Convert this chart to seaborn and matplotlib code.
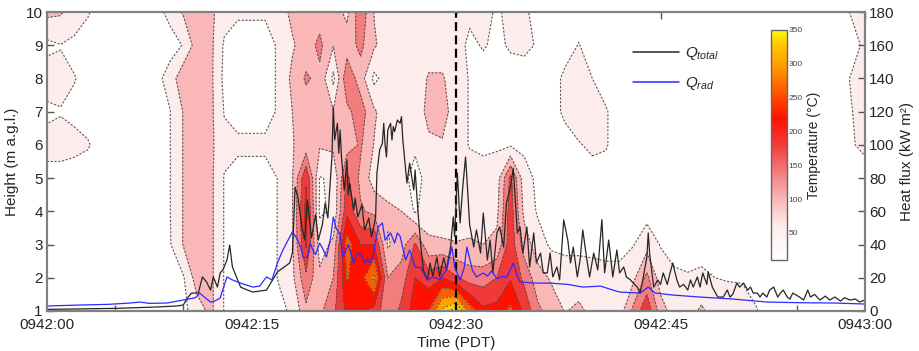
import numpy as np
import pandas as pd
import matplotlib
matplotlib.use("Agg")
import matplotlib.pyplot as plt
import seaborn as sns
from matplotlib.colors import LinearSegmentedColormap, Normalize
from matplotlib.cm import ScalarMappable
from matplotlib.lines import Line2D
from matplotlib.ticker import FixedLocator, MultipleLocator

sns.set_style("white")
plt.rcParams["font.family"] = ["Liberation Sans", "DejaVu Sans"]
plt.rcParams["mathtext.fontset"] = "custom"
plt.rcParams["mathtext.it"] = "Liberation Sans:italic"
plt.rcParams["mathtext.rm"] = "Liberation Sans"

# ---- thermocouple tower temperatures (deg C), 1 s steps after 09:42:00 PDT ----
seconds = np.arange(0, 61)
heights = np.arange(1, 11)

temp_h01 = [25, 25, 25, 25, 25, 25, 25, 25, 28, 30,
            30, 60, 90, 38, 25, 25, 25, 32, 45, 110,
            110, 150, 210, 205, 185, 130, 170, 220, 240, 330,
            370, 260, 210, 215, 250, 190, 130, 100, 78, 88,
            70, 65, 60, 130, 190, 100, 60, 60, 88, 60,
            55, 50, 42, 30, 30, 30, 30, 30, 28, 28,
            28]
temp_h02 = [25, 25, 25, 25, 25, 25, 25, 25, 28, 32,
            36, 100, 90, 38, 25, 25, 25, 42, 70, 150,
            90, 120, 243, 220, 290, 120, 140, 200, 180, 200,
            165, 140, 140, 160, 195, 150, 95, 75, 60, 60,
            55, 50, 50, 70, 130, 60, 45, 42, 45, 40,
            38, 38, 30, 25, 25, 25, 25, 25, 28, 28,
            28]
temp_h03 = [25, 25, 25, 25, 25, 25, 25, 25, 28, 36,
            82, 110, 90, 38, 25, 25, 25, 42, 75, 205,
            60, 90, 260, 200, 200, 75, 100, 165, 88, 85,
            82, 85, 80, 90, 185, 100, 60, 32, 30, 30,
            30, 30, 30, 38, 65, 38, 30, 30, 30, 30,
            28, 28, 25, 25, 25, 25, 25, 25, 28, 28,
            28]
temp_h04 = [25, 25, 25, 25, 25, 25, 25, 25, 28, 38,
            82, 110, 90, 38, 25, 25, 25, 42, 78, 215,
            35, 45, 190, 125, 110, 88, 80, 35, 60, 60,
            60, 60, 60, 70, 180, 70, 35, 30, 30, 30,
            30, 30, 28, 25, 25, 25, 25, 25, 25, 25,
            25, 25, 25, 25, 25, 25, 25, 25, 28, 28,
            28]
temp_h05 = [24, 34, 30, 28, 25, 25, 25, 25, 28, 38,
            82, 110, 90, 38, 25, 25, 25, 42, 78, 195,
            38, 45, 170, 110, 60, 60, 50, 30, 50, 55,
            55, 55, 50, 60, 170, 55, 32, 30, 30, 30,
            30, 30, 25, 25, 25, 25, 25, 25, 25, 25,
            25, 25, 25, 25, 25, 25, 25, 25, 28, 28,
            30]
temp_h06 = [56, 46, 46, 42, 30, 25, 25, 25, 28, 38,
            82, 110, 90, 50, 48, 48, 48, 60, 78, 95,
            85, 90, 100, 125, 78, 60, 55, 45, 70, 75,
            55, 38, 35, 35, 35, 32, 30, 30, 30, 38,
            45, 42, 28, 25, 25, 25, 25, 25, 25, 25,
            25, 25, 25, 25, 25, 25, 25, 25, 28, 38,
            45]
temp_h07 = [31, 39, 35, 30, 25, 25, 25, 25, 28, 38,
            82, 110, 90, 38, 25, 25, 25, 45, 80, 100,
            100, 82, 110, 140, 85, 60, 55, 50, 95, 100,
            55, 38, 30, 30, 30, 30, 30, 30, 45, 55,
            50, 42, 28, 25, 25, 25, 25, 25, 25, 25,
            25, 25, 25, 25, 25, 25, 25, 25, 28, 39,
            50]
temp_h08 = [60, 46, 41, 33, 28, 25, 25, 25, 28, 55,
            110, 110, 90, 30, 25, 25, 25, 45, 90, 125,
            110, 30, 150, 100, 30, 60, 55, 50, 85, 85,
            55, 38, 30, 30, 30, 30, 30, 30, 45, 50,
            40, 30, 28, 25, 25, 25, 25, 25, 25, 25,
            25, 25, 25, 25, 25, 25, 25, 25, 28, 42,
            45]
temp_h09 = [30, 39, 34, 30, 28, 25, 25, 25, 28, 25,
            42, 100, 90, 35, 25, 25, 25, 45, 75, 100,
            130, 82, 100, 130, 85, 60, 55, 55, 55, 55,
            50, 35, 42, 35, 43, 45, 38, 30, 30, 41,
            30, 30, 28, 25, 25, 25, 25, 25, 25, 25,
            25, 25, 25, 25, 25, 25, 25, 25, 28, 30,
            45]
temp_h10 = [90, 85, 55, 42, 30, 25, 25, 25, 28, 50,
            85, 110, 90, 55, 45, 45, 45, 60, 90, 100,
            100, 100, 70, 150, 78, 60, 55, 55, 55, 55,
            39, 45, 50, 36, 48, 45, 30, 30, 30, 30,
            30, 30, 28, 25, 25, 25, 25, 25, 25, 25,
            25, 25, 25, 25, 25, 25, 25, 25, 30, 42,
            55]

# ---- heat flux series (kW m-2) ----
q_total_t = [0.0, 2.0, 5.1, 8.0, 9.5, 10.0, 10.3, 10.6, 11.1, 11.4, 11.7, 12.0, 12.2, 12.5,
             12.7, 12.9, 13.2, 13.4, 13.6, 13.9, 14.2, 14.7, 15.1, 16.1, 16.9, 17.3, 17.8,
             18.0, 18.2, 18.4, 18.7, 18.9, 19.1, 19.4, 19.7, 19.9, 20.2, 20.4, 20.6, 20.9,
             21.0, 21.1, 21.3, 21.4, 21.5, 21.6, 21.8, 22.0, 22.1, 22.2, 22.5, 22.6, 22.8,
             23.1, 23.3, 23.6, 23.8, 24.1, 24.2, 24.4, 24.6, 24.7, 24.8, 24.9, 25.0, 25.2,
             25.3, 25.4, 25.5, 25.7, 25.9, 26.0, 26.1, 26.4, 26.6, 26.9, 27.0, 27.2, 27.4,
             27.6, 27.9, 28.1, 28.3, 28.6, 28.8, 29.1, 29.3, 29.6, 29.8, 29.9, 30.1, 30.3,
             30.5, 30.7, 30.8, 31.0, 31.3, 31.5, 31.8, 32.0, 32.3, 32.5, 32.7, 33.0, 33.2,
             33.5, 33.7, 34.0, 34.2, 34.5, 34.7, 34.9, 35.2, 35.4, 35.7, 35.9, 36.2, 36.4,
             36.7, 36.9, 37.1, 37.4, 37.6, 37.9, 38.2, 38.4, 38.6, 38.9, 39.1, 39.3, 39.6,
             39.8, 40.1, 40.4, 40.7, 40.9, 41.2, 41.5, 41.8, 42.0, 42.3, 42.5, 42.8, 43.0,
             43.3, 43.5, 43.7, 44.0, 44.1, 44.2, 44.5, 44.8, 45.0, 45.2, 45.5, 45.7, 45.9,
             46.2, 46.4, 46.7, 47.0, 47.2, 47.4, 47.7, 47.9, 48.1, 48.4, 48.5, 48.8, 49.2,
             49.6, 49.9, 50.1, 50.3, 50.6, 50.8, 51.1, 51.4, 51.6, 51.8, 52.1, 52.3, 52.5,
             52.8, 53.0, 53.3, 53.6, 53.8, 54.0, 54.3, 54.5, 54.7, 55.2, 55.5, 55.8, 56.0,
             56.3, 56.7, 57.1, 57.4, 57.8, 58.2, 58.5, 58.9, 59.3, 59.6, 60.0]
q_total_kw = [1.0, 1.2, 1.6, 2.4, 3.0, 3.6, 7.8, 10.8, 10.8, 20.5, 17.5, 12.6, 20.5, 14.4,
              22.9, 24.7, 30.7, 39.7, 26.5, 20.5, 14.4, 12.6, 11.4, 12.6, 23.5, 25.9, 28.9,
              34.9, 74.6, 68.6, 50.6, 42.7, 66.8, 44.0, 58.0, 42.7, 52.0, 65.0, 56.0, 92.7,
              122.8, 103.0, 113.0, 95.0, 109.0, 92.7, 72.8, 90.9, 70.0, 77.0, 60.8, 68.0, 56.6,
              64.0, 48.8, 56.0, 44.5, 56.0, 83.0, 97.0, 101.0, 113.0, 100.0, 92.7, 109.0, 113.0,
              103.0, 111.0, 108.0, 115.0, 113.0, 117.0, 103.0, 77.0, 89.0, 72.8, 84.9, 60.8, 40.9,
              24.7, 18.7, 28.9, 21.0, 32.5, 21.0, 32.0, 25.0, 38.5, 56.6, 45.0, 83.0, 53.0,
              75.0, 92.7, 80.0, 52.0, 38.5, 48.8, 34.9, 59.0, 30.7, 42.7, 22.9, 47.0, 50.6,
              38.5, 65.0, 74.6, 86.0, 47.0, 50.6, 34.9, 50.6, 26.5, 47.0, 28.9, 34.9, 22.9,
              22.9, 34.9, 20.5, 26.5, 18.7, 54.8, 42.7, 28.9, 38.5, 20.5, 30.7, 48.8, 30.7,
              20.5, 34.9, 24.7, 55.0, 23.0, 42.7, 20.5, 36.7, 22.9, 26.5, 20.5, 18.7, 16.8,
              14.4, 10.8, 18.7, 32.5, 47.0, 34.9, 14.4, 18.7, 16.0, 22.9, 16.0, 22.9, 28.9,
              18.7, 14.4, 16.0, 12.6, 18.7, 14.4, 20.5, 14.4, 22.9, 16.0, 23.5, 14.4, 8.4,
              8.4, 12.6, 8.4, 10.0, 16.8, 14.4, 16.8, 12.6, 14.4, 10.8, 10.8, 8.4, 10.8,
              8.4, 12.6, 14.4, 8.4, 10.8, 12.6, 8.4, 7.2, 10.8, 8.4, 6.6, 12.6, 8.4,
              10.0, 6.6, 9.0, 6.6, 8.4, 6.0, 8.0, 6.6, 7.2, 5.4, 6.6]

q_rad_t = [0.0, 2.4, 4.5, 6.1, 6.8, 7.5, 8.8, 10.0, 10.9, 11.2, 11.6, 12.0, 12.3, 12.7,
           13.2, 13.6, 14.2, 15.1, 15.6, 16.1, 16.5, 16.9, 17.3, 17.8, 18.0, 18.3, 18.6,
           18.8, 19.1, 19.3, 19.5, 19.7, 20.0, 20.2, 20.5, 20.8, 21.0, 21.2, 21.5, 21.7,
           22.1, 22.5, 22.7, 23.0, 23.3, 23.5, 23.7, 23.9, 24.3, 24.6, 24.8, 25.2, 25.5,
           25.7, 25.9, 26.3, 26.6, 27.0, 27.4, 27.9, 28.3, 28.8, 29.3, 29.7, 29.9, 30.3,
           30.6, 30.8, 31.2, 31.5, 32.0, 32.3, 32.6, 33.0, 33.5, 33.7, 34.2, 34.5, 34.7,
           35.7, 36.9, 38.2, 39.3, 40.6, 41.5, 42.0, 43.5, 44.1, 44.6, 45.9, 47.9, 50.3,
           52.8, 55.2, 57.7, 60.0]
q_rad_kw = [3.0, 3.6, 4.0, 4.8, 5.4, 4.6, 4.8, 6.6, 8.0, 10.8, 8.0, 5.4, 6.0, 7.8,
            20.5, 18.7, 16.8, 14.4, 15.0, 20.5, 18.7, 28.9, 36.7, 44.5, 47.6, 44.0, 38.5,
            32.0, 32.5, 40.9, 36.7, 34.0, 40.9, 38.0, 32.5, 44.0, 56.6, 50.0, 46.0, 32.5,
            40.0, 28.9, 34.0, 34.9, 28.9, 31.0, 28.9, 33.0, 50.6, 53.0, 42.7, 47.0, 40.9,
            47.0, 45.0, 30.7, 36.7, 26.5, 26.0, 18.7, 20.5, 19.0, 24.7, 38.5, 26.5, 18.7,
            26.0, 38.5, 24.7, 20.5, 22.9, 21.0, 24.0, 19.5, 21.0, 20.0, 28.9, 21.0, 17.5,
            16.8, 16.8, 16.0, 14.4, 15.0, 12.6, 11.4, 10.8, 14.4, 10.8, 9.6, 8.4, 7.2,
            5.4, 5.0, 4.8, 4.2]

time_ticks = [0, 15, 30, 45, 60]
time_labels = ["0942:00", "0942:15", "0942:30", "0942:45", "0943:00"]
temp_levels = [40, 80, 120, 160, 200, 240, 280, 320, 350, 420]
cbar_ticks = [50, 100, 150, 200, 250, 300, 350]

# ---- colour map: white -> pink -> red -> orange -> yellow ----
stops = [(10, "#ffffff"), (60, "#fdecec"), (100, "#f9b6b6"), (140, "#f37c7c"),
         (180, "#f23a3a"), (220, "#ff1000"), (260, "#ff5a00"), (300, "#ffa000"),
         (335, "#ffd200"), (350, "#ffff00")]
vmin, vmax = 10, 350
cmap = LinearSegmentedColormap.from_list(
    "fire", [((v - vmin) / (vmax - vmin), c) for v, c in stops])
norm = Normalize(vmin=vmin, vmax=vmax)

temperature = np.vstack([temp_h01, temp_h02, temp_h03, temp_h04, temp_h05,
                         temp_h06, temp_h07, temp_h08, temp_h09, temp_h10])

fig = plt.figure(figsize=(9.19, 3.51), dpi=100)
ax = fig.add_axes([47 / 919, 1 - 311 / 351, 818 / 919, 299 / 351])

ax.contourf(seconds, heights, temperature, levels=temp_levels, cmap=cmap, norm=norm)
ax.contour(seconds, heights, temperature, levels=temp_levels[:-1], colors="#555555",
           linewidths=0.8, linestyles=[(0, (1.8, 1.6))])
ax.axvline(30, color="black", lw=1.6, ls=(0, (4, 2)), zorder=5)

ax.set_xlim(0, 60)
ax.set_ylim(1, 10)
ax.xaxis.set_major_locator(FixedLocator(time_ticks))
ax.set_xticklabels(time_labels)
ax.xaxis.set_minor_locator(MultipleLocator(5))
ax.set_yticks(range(1, 11))
ax.set_xlabel("Time (PDT)", fontsize=11, labelpad=3)
ax.set_ylabel("Height (m a.g.l.)", fontsize=11, labelpad=5)
ax.tick_params(axis="x", which="major", direction="in", labelsize=11,
               length=5, width=1, color="#555555", top=True, pad=5)
ax.tick_params(axis="y", which="major", direction="in", labelsize=11,
               length=5, width=1, color="#555555", pad=3)
ax.tick_params(axis="x", which="minor", direction="in", length=4, width=1,
               color="#555555", top=False, bottom=True)

# ---- heat flux on the right axis ----
ax2 = ax.twinx()
flux = pd.concat([
    pd.DataFrame({"t": q_total_t, "flux": q_total_kw, "series": "total"}),
    pd.DataFrame({"t": q_rad_t, "flux": q_rad_kw, "series": "rad"}),
], ignore_index=True)
colours = {"total": "#262626", "rad": "#2b2bff"}
sns.lineplot(data=flux, x="t", y="flux", hue="series", palette=colours,
             estimator=None, sort=False, linewidth=0.9, legend=False, ax=ax2)
ax2.set_ylim(0, 180)
ax2.set_xlim(0, 60)
ax2.set_yticks(range(0, 181, 20))
ax2.set_ylabel("Heat flux (kW m²)", fontsize=11, labelpad=4)
ax2.tick_params(axis="y", direction="in", labelsize=11, length=5, width=1,
                color="#555555", pad=3)

handles = [Line2D([], [], color=colours["total"], lw=1.1),
           Line2D([], [], color=colours["rad"], lw=1.1)]
ax2.legend(handles, [r"$Q_{total}$", r"$Q_{rad}$"], loc="upper left",
           bbox_to_anchor=(0.7, 0.935), frameon=False, fontsize=11,
           handlelength=3.0, labelspacing=0.85, handletextpad=0.4)

for a in (ax, ax2):
    for s in a.spines.values():
        s.set_color("#808080")
        s.set_linewidth(1.5)

# ---- colour bar ----
cax = fig.add_axes([771 / 919, 1 - 260 / 351, 16 / 919, 230 / 351])
cb = fig.colorbar(ScalarMappable(norm=norm, cmap=cmap), cax=cax, ticks=cbar_ticks)
cb.outline.set_edgecolor("#666666")
cb.outline.set_linewidth(1.0)
cax.tick_params(labelsize=6, length=2, width=0.6, direction="in", color="#555555",
                labelcolor="#444444", pad=1)
cb.set_label("Temperature (°C)", fontsize=10, labelpad=3)

fig.savefig("out.png", dpi=100)
